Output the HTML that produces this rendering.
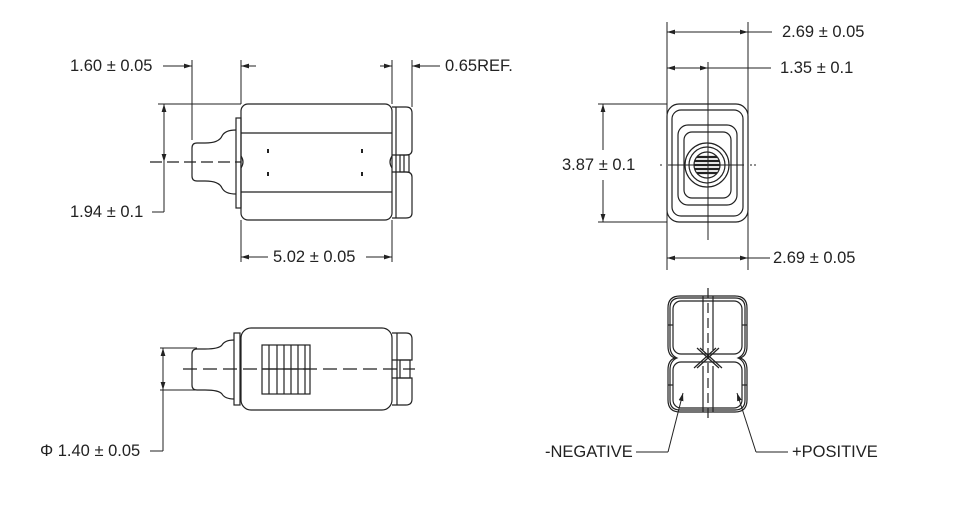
<!DOCTYPE html>
<html><head><meta charset="utf-8"><style>
html,body{margin:0;padding:0;background:#fff;}
svg{display:block;}
text{font-family:"Liberation Sans",sans-serif;font-size:16.5px;fill:#222;}
</style></head><body>
<svg width="959" height="506" viewBox="0 0 959 506" xmlns="http://www.w3.org/2000/svg">
<defs>
<marker id="a" viewBox="0 0 10 6" refX="10" refY="3" markerWidth="8" markerHeight="5" orient="auto-start-reverse" markerUnits="userSpaceOnUse"><path d="M0,0 L10,3 L0,6 z" fill="#222"/></marker>
</defs>
<g stroke="#222" stroke-width="1.2" fill="none">
<!-- TOP LEFT VIEW -->
<rect x="241" y="104" width="151" height="116" rx="7"/>
<line x1="241" y1="133" x2="392" y2="133"/>
<line x1="241" y1="192" x2="392" y2="192"/>
<path d="M241,156 Q245,162 241,168"/>
<path d="M392,156 Q388,162 392,168"/>
<rect x="236" y="118" width="5" height="90"/>
<path d="M236,130 Q225,130 222,136 Q219,143 205,143 L197,143 Q192,143 192,148 L192,176 Q192,181 197,181 L205,181 Q219,181 222,188 Q225,194 236,194"/>
<path d="M392,107 L406,107 Q412,107 412,113 L412,150 Q412,155 406,155 L392,155"/>
<path d="M392,172 L406,172 Q412,172 412,177 L412,213 Q412,218 406,218 L392,218"/>
<line x1="396" y1="107" x2="396" y2="218"/>
<rect x="400" y="155" width="9" height="17"/>
<line x1="404" y1="155" x2="404" y2="172"/>
<line x1="150" y1="162" x2="241" y2="162" stroke-dasharray="12,5"/>
<line x1="268" y1="149" x2="268" y2="153" stroke-width="2"/>
<line x1="362" y1="149" x2="362" y2="153" stroke-width="2"/>
<line x1="268" y1="172" x2="268" y2="176" stroke-width="2"/>
<line x1="362" y1="172" x2="362" y2="176" stroke-width="2"/>
<!-- dims top-left -->
<line x1="192" y1="60" x2="192" y2="140" stroke-width="1"/>
<line x1="241" y1="60" x2="241" y2="104" stroke-width="1"/>
<line x1="392" y1="60" x2="392" y2="104" stroke-width="1"/>
<line x1="412" y1="60" x2="412" y2="107" stroke-width="1"/>
<line x1="163" y1="66" x2="192" y2="66" stroke-width="1" marker-end="url(#a)"/>
<line x1="256" y1="66" x2="241" y2="66" stroke-width="1" marker-end="url(#a)"/>
<line x1="380" y1="66" x2="392" y2="66" stroke-width="1" marker-end="url(#a)"/>
<line x1="440" y1="66" x2="412" y2="66" stroke-width="1" marker-end="url(#a)"/>
<line x1="158" y1="104" x2="241" y2="104" stroke-width="1"/>
<line x1="164" y1="104" x2="164" y2="162" stroke-width="1" marker-start="url(#a)" marker-end="url(#a)"/>
<line x1="164" y1="162" x2="164" y2="212" stroke-width="1"/>
<line x1="152" y1="212" x2="164" y2="212" stroke-width="1"/>
<line x1="241" y1="220" x2="241" y2="262" stroke-width="1"/>
<line x1="392" y1="220" x2="392" y2="262" stroke-width="1"/>
<line x1="241" y1="257" x2="268" y2="257" stroke-width="1" marker-start="url(#a)"/>
<line x1="366" y1="257" x2="392" y2="257" stroke-width="1" marker-end="url(#a)"/>

<!-- BOTTOM LEFT VIEW -->
<rect x="241" y="328" width="151" height="82" rx="10"/>
<rect x="234" y="333" width="6" height="72"/>
<path d="M234,340 Q225,340 222,345 Q219,349 205,349 L197,349 Q192,349 192,354 L192,385 Q192,390 197,390 L205,390 Q219,390 222,394 Q225,399 234,399"/>
<path d="M392,333 L406,333 Q412,333 412,339 L412,360 L392,360"/>
<path d="M392,378 L412,378 L412,399 Q412,405 406,405 L392,405"/>
<line x1="397" y1="333" x2="397" y2="405"/>
<rect x="400" y="360" width="10" height="18"/>
<rect x="262" y="345" width="48" height="49"/>
<line x1="269" y1="345" x2="269" y2="394"/>
<line x1="277" y1="345" x2="277" y2="394"/>
<line x1="284" y1="345" x2="284" y2="394"/>
<line x1="291" y1="345" x2="291" y2="394"/>
<line x1="298" y1="345" x2="298" y2="394"/>
<line x1="305" y1="345" x2="305" y2="394"/>
<line x1="262" y1="369" x2="310" y2="369"/>
<line x1="183" y1="369" x2="415" y2="369" stroke-dasharray="14,6"/>
<line x1="160" y1="348" x2="197" y2="348" stroke-width="1"/>
<line x1="160" y1="390" x2="197" y2="390" stroke-width="1"/>
<line x1="163" y1="348" x2="163" y2="390" stroke-width="1" marker-start="url(#a)" marker-end="url(#a)"/>
<line x1="163" y1="390" x2="163" y2="451" stroke-width="1"/>
<line x1="150" y1="451" x2="163" y2="451" stroke-width="1"/>

<!-- TOP RIGHT VIEW -->
<rect x="667" y="104" width="81" height="118" rx="12"/>
<rect x="672" y="110" width="71" height="106" rx="9"/>
<rect x="678" y="125" width="59" height="80" rx="10"/>
<rect x="684" y="132" width="47" height="66" rx="8"/>
<circle cx="707" cy="165" r="22"/>
<circle cx="707" cy="165" r="18"/>
<circle cx="707" cy="165" r="13"/>
<g stroke-width="2.2">
<line x1="697" y1="157" x2="717" y2="157"/><line x1="695" y1="161" x2="719" y2="161"/>
<line x1="694" y1="165" x2="720" y2="165"/><line x1="695" y1="169" x2="719" y2="169"/>
<line x1="697" y1="173" x2="717" y2="173"/>
</g>
<line x1="667" y1="22" x2="667" y2="270" stroke-width="1"/>
<line x1="748" y1="22" x2="748" y2="270" stroke-width="1"/>
<line x1="708" y1="62" x2="708" y2="240" stroke-width="1"/>
<line x1="660" y1="165" x2="756" y2="165" stroke-width="1" stroke-dasharray="2,6,76,6,2"/>
<line x1="667" y1="32" x2="748" y2="32" stroke-width="1" marker-start="url(#a)" marker-end="url(#a)"/>
<line x1="748" y1="32" x2="772" y2="32" stroke-width="1"/>
<line x1="667" y1="68" x2="708" y2="68" stroke-width="1" marker-start="url(#a)" marker-end="url(#a)"/>
<line x1="708" y1="68" x2="771" y2="68" stroke-width="1"/>
<line x1="667" y1="258" x2="748" y2="258" stroke-width="1" marker-start="url(#a)" marker-end="url(#a)"/>
<line x1="748" y1="258" x2="770" y2="258" stroke-width="1"/>
<line x1="598" y1="104" x2="667" y2="104" stroke-width="1"/>
<line x1="598" y1="222" x2="667" y2="222" stroke-width="1"/>
<line x1="603" y1="104" x2="603" y2="150" stroke-width="1" marker-start="url(#a)"/>
<line x1="603" y1="180" x2="603" y2="222" stroke-width="1" marker-end="url(#a)"/>

<!-- BOTTOM RIGHT VIEW -->
<path d="M680,296 L735,296 Q747,296 747,308 L747,346 Q747,356 740,358 Q747,360 747,370 L747,400 Q747,412 735,412 L680,412 Q668,412 668,400 L668,370 Q668,360 675,358 Q668,356 668,346 L668,308 Q668,296 680,296 Z"/>
<path d="M680,298 L735,298 Q745,298 745,308 L745,346 Q745,355 738,358 Q745,361 745,370 L745,400 Q745,410 735,410 L680,410 Q670,410 670,400 L670,370 Q670,361 677,358 Q670,355 670,346 L670,308 Q670,298 680,298 Z"/>
<rect x="673" y="301" width="69" height="53" rx="8"/>
<rect x="673" y="362" width="69" height="46" rx="8"/>
<line x1="703" y1="296" x2="703" y2="350"/>
<line x1="713" y1="296" x2="713" y2="350"/>
<line x1="703" y1="366" x2="703" y2="412"/>
<line x1="713" y1="366" x2="713" y2="412"/>
<path d="M697,348 L719,368 M697,368 L719,348 M700,348 L722,368 M694,368 L716,348"/>
<line x1="708" y1="288" x2="708" y2="418" stroke-dasharray="10,5"/>
<line x1="668" y1="325" x2="673" y2="325"/><line x1="742" y1="325" x2="747" y2="325"/>
<line x1="668" y1="385" x2="673" y2="385"/><line x1="742" y1="385" x2="747" y2="385"/>
<line x1="668" y1="452" x2="683" y2="393" stroke-width="1" marker-end="url(#a)"/>
<line x1="636" y1="452" x2="668" y2="452" stroke-width="1"/>
<line x1="756" y1="452" x2="737" y2="393" stroke-width="1" marker-end="url(#a)"/>
<line x1="756" y1="452" x2="788" y2="452" stroke-width="1"/>
</g>
<text x="70" y="71">1.60 ± 0.05</text>
<text x="445" y="71">0.65REF.</text>
<text x="70" y="217">1.94 ± 0.1</text>
<text x="273" y="262">5.02 ± 0.05</text>
<text x="40" y="456">Φ 1.40 ± 0.05</text>
<text x="782" y="37">2.69 ± 0.05</text>
<text x="780" y="73">1.35 ± 0.1</text>
<text x="562" y="170">3.87 ± 0.1</text>
<text x="773" y="263">2.69 ± 0.05</text>
<text x="545" y="457">-NEGATIVE</text>
<text x="792" y="457">+POSITIVE</text>
</svg>
</body></html>
